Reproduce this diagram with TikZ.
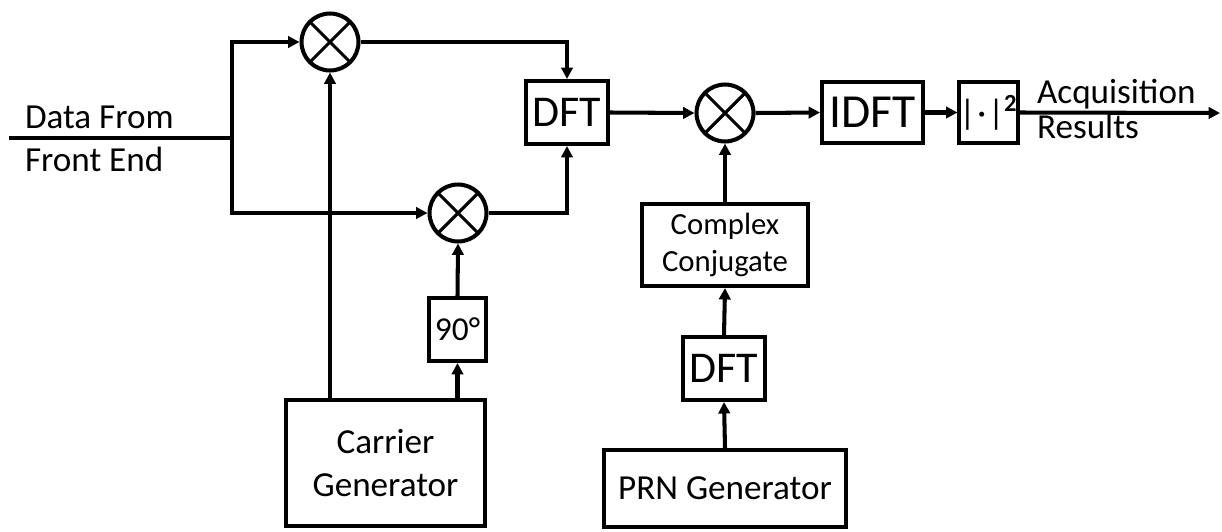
\documentclass[tikz,border=0pt]{standalone}
\usepackage{fontspec}
\setmainfont{Carlito}
\usepackage{tikz}
\usetikzlibrary{arrows.meta,positioning,calc}

\begin{document}
\begin{tikzpicture}[
  x=0.02cm, y=-0.02cm,
  line width=2.3pt,
  block/.style={draw, line width=2.3pt, inner sep=0pt, align=center,
                font=\fontsize{20}{24}\selectfont},
  mixer/.style={draw, circle, minimum size=1.14cm, inner sep=0pt,
                path picture={\draw[line width=1.8pt]
                  (path picture bounding box.north west) -- (path picture bounding box.south east)
                  (path picture bounding box.north east) -- (path picture bounding box.south west);}},
  sig/.style={-{Triangle[length=6.5pt,width=6.5pt]}},
  lbl/.style={anchor=base west, inner sep=0pt, font=\fontsize{20}{24}\selectfont}
]
  \useasboundingbox (0,0) rectangle (1222,531);

  % mixers
  \node[mixer] (mixI)    at (330,42)  {};
  \node[mixer] (mixQ)    at (458,213) {};
  \node[mixer] (mixCorr) at (725,113) {};

  % blocks
  \node[block, minimum width=1.64cm, minimum height=1.26cm,
        font=\fontsize{25}{30}\selectfont] (dftSig) at (567,112.5) {DFT};
  \node[block, minimum width=2.02cm, minimum height=1.22cm,
        font=\fontsize{27}{30}\selectfont] (idft) at (872.5,112.5) {IDFT};
  \node[block, minimum width=1.1cm, minimum height=1.22cm,
        font=\fontsize{20}{24}\selectfont] (magSq) at (988.5,112.5) {|\kern1pt·\kern1pt|\textsuperscript{\bfseries 2}};
  \node[block, minimum width=3.32cm, minimum height=1.64cm,
        font=\fontsize{17.5}{21.5}\selectfont] (conj) at (725,245) {Complex\\Conjugate};
  \node[block, minimum width=1.64cm, minimum height=1.26cm,
        font=\fontsize{25}{30}\selectfont] (dftCode) at (724,368.5) {DFT};
  \node[block, minimum width=4.84cm, minimum height=1.54cm] (prn) at (725,488.5) {PRN Generator};
  \node[block, minimum width=3.98cm, minimum height=2.52cm] (carrier) at (385.5,463) {Carrier\\Generator};
  \node[block, minimum width=1.14cm, minimum height=1.26cm,
        font=\fontsize{19}{24}\selectfont] (shift) at (457.5,329.5) {90°};

  % labels
  \node[lbl] (inTop) at (23,128) {Data From};
  \node[lbl] (inBot) at (23,171) {Front End};
  \node[lbl] (outTop) at (1035,103) {Acquisition};
  \node[lbl] (outBot) at (1035,138) {Results};

  \coordinate (in)    at (9,138);
  \coordinate (split) at (232,138);
  \coordinate (out)   at (1220,113);

  % input split
  \draw (in) -- (split);
  \draw[sig] (split) |- (mixI.west);
  \draw[sig] (split) |- (mixQ.west);
  \draw[sig] (mixI.east) -| (dftSig.north);
  \draw[sig] (mixQ.east) -| (dftSig.south);
  \draw[sig] (mixI.south |- carrier.north) -- (mixI.south);
  \draw[sig] (shift.south |- carrier.north) -- (shift.south);
  \draw[sig] (magSq.east) -- (out);

  \foreach \a/\b in {dftSig.east/mixCorr.west, mixCorr.east/idft.west,
                     idft.east/magSq.west, shift.north/mixQ.south,
                     prn.north/dftCode.south, dftCode.north/conj.south,
                     conj.north/mixCorr.south}
    \draw[sig] (\a) -- (\b);
\end{tikzpicture}
\end{document}
